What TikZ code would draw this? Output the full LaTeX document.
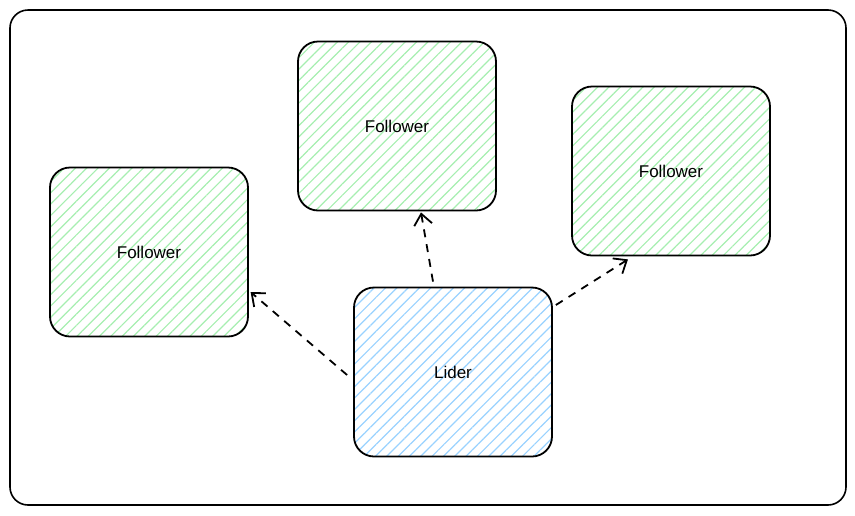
\documentclass[tikz,border=0pt]{standalone}
\usepackage{fontspec}
\setmainfont{Liberation Sans}
\usetikzlibrary{arrows.meta, patterns.meta}

\definecolor{hatchgreen}{HTML}{A6EEB0}
\definecolor{hatchblue}{HTML}{99D2FF}

\tikzset{
  box/.style={draw=black, line width=1.8pt, rounded corners=20pt,
    minimum width=198pt, minimum height=169pt,
    font=\fontsize{17}{20}\selectfont},
  follower/.style={box, pattern={Lines[angle=45, distance=8pt, line width=1.2pt]},
    pattern color=hatchgreen},
  leader/.style={box, pattern={Lines[angle=45, distance=8pt, line width=1.2pt]},
    pattern color=hatchblue},
  link/.style={line width=1.8pt, dash pattern=on 8pt off 7pt,
    -{Straight Barb[length=11pt, width=18pt]}}
}

\begin{document}
\begin{tikzpicture}[x=1pt, y=-1pt]
\useasboundingbox (0,0) rectangle (855,515);

% Frame
\draw[line width=1.6pt, rounded corners=18pt] (10,10) rectangle (846,505);

% Nodes
\node[follower] (fleft) at (149,252) {Follower};
\node[follower] (ftop) at (397,126) {Follower};
\node[follower] (fright) at (671,171) {Follower};
\node[leader] (lider) at (453,372) {Lider};

% Links
\draw[link] ([xshift=-6pt,yshift=-3pt]lider.west) -- ([xshift=2pt,yshift=-40pt]fleft.east);
\draw[link] ([xshift=-20pt,yshift=5pt]lider.north) -- ([xshift=24pt,yshift=-1pt]ftop.south);
\draw[link] ([xshift=3pt,yshift=67pt]lider.east) -- ([xshift=-43pt,yshift=-3pt]fright.south);

\end{tikzpicture}
\end{document}
